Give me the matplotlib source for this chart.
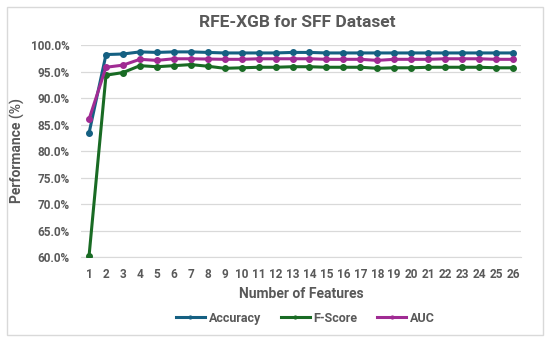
import numpy as np
import matplotlib
matplotlib.use("Agg")
import matplotlib.pyplot as plt
from matplotlib.ticker import PercentFormatter
from matplotlib.patches import Rectangle

plt.rcParams['font.family'] = ['Roboto', 'DejaVu Sans']

# number of features 1..26
features = list(range(1, 27))

accuracy = [83.4, 98.2, 98.3, 98.7, 98.6, 98.7, 98.7, 98.6, 98.5, 98.5, 98.5, 98.5, 98.6,
            98.6, 98.5, 98.5, 98.5, 98.5, 98.5, 98.5, 98.5, 98.5, 98.5, 98.5, 98.5, 98.5]
fscore = [60.2, 94.3, 94.8, 96.1, 95.9, 96.1, 96.3, 96.0, 95.6, 95.7, 95.8, 95.8, 95.9,
          95.9, 95.8, 95.8, 95.8, 95.6, 95.7, 95.7, 95.8, 95.8, 95.8, 95.8, 95.7, 95.7]
auc = [86.0, 95.8, 96.2, 97.3, 97.1, 97.4, 97.4, 97.35, 97.3, 97.3, 97.4, 97.4, 97.4,
       97.4, 97.3, 97.3, 97.3, 97.1, 97.3, 97.3, 97.3, 97.4, 97.4, 97.4, 97.3, 97.3]

series_names = ["Accuracy", "F-Score", "AUC"]
colors = ["#156082", "#196B24", "#A02B93"]
txt = "#595959"

fig = plt.figure(figsize=(5.5, 3.43), dpi=100)
ax = fig.add_axes([0.1465, 0.2507, 0.8015, 0.6181])

for vals, name, c in zip([accuracy, fscore, auc], series_names, colors):
    ax.plot(features, vals, color=c, lw=2.2, marker='o', ms=4, label=name, zorder=3)

ax.set_xlim(0.5, 26.5)
ax.set_ylim(60, 100)
ax.set_yticks(np.arange(60, 100.1, 5))
ax.yaxis.set_major_formatter(PercentFormatter(decimals=1))
ax.set_xticks(features)
ax.grid(axis='y', color='#d9d9d9', lw=0.9)
ax.set_axisbelow(True)
for s in ['top', 'right', 'left']:
    ax.spines[s].set_visible(False)
ax.spines['bottom'].set_color('#d9d9d9')
ax.tick_params(length=0, labelsize=8.5, labelcolor=txt)
ax.tick_params(axis='x', pad=8)
ax.tick_params(axis='y', pad=8)
for lab in ax.get_xticklabels() + ax.get_yticklabels():
    lab.set_fontweight('bold')

ax.set_xlabel("Number of Features", fontsize=10, fontweight='bold', color=txt, labelpad=4)
ax.set_ylabel("Performance (%)", fontsize=10, fontweight='bold', color=txt, labelpad=4)
fig.text(0.54, 0.935, "RFE-XGB for SFF Dataset", ha='center', va='center',
         fontsize=12.5, fontweight='bold', color=txt)

leg = ax.legend(loc='center', bbox_to_anchor=(0.51, -0.288), ncol=3, frameon=False,
                fontsize=9, handlelength=2.3, markerscale=0.5, columnspacing=1.6,
                handletextpad=0.3, borderaxespad=0)
for t in leg.get_texts():
    t.set_color(txt)
    t.set_fontweight('bold')

fig.patches.append(Rectangle((0.013, 0.024), 0.974, 0.956, transform=fig.transFigure,
                             fill=False, edgecolor='#d9d9d9', lw=1))

fig.savefig("out.png", dpi=100)
